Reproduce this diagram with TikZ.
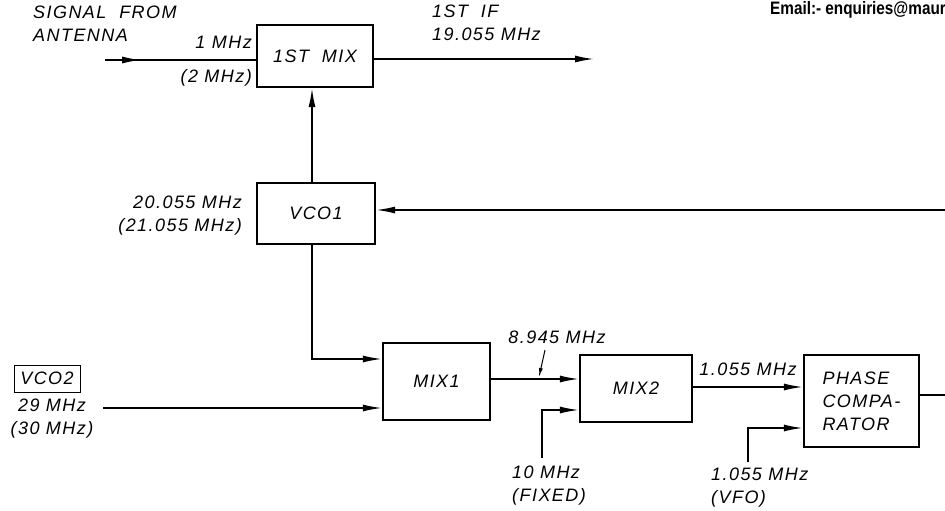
\documentclass[tikz,border=0pt]{standalone}
\usepackage{fontspec}
\setmainfont{Liberation Sans}[LetterSpace=8]
\newfontfamily\mailfont{Liberation Sans}
\usetikzlibrary{arrows.meta,calc}
\tikzset{
  blk/.style={draw, line width=2.2pt, inner sep=0pt, font=\fontsize{18}{23}\selectfont\itshape},
  lbl/.style={inner sep=0pt, font=\fontsize{18}{23}\selectfont\itshape},
  arr/.style={line width=1.6pt, -{Latex[length=19pt,width=7pt]}},
  ln/.style={line width=1.6pt},
  smallarr/.style={line width=1pt, -{Latex[length=9pt,width=4pt]}}
}
\begin{document}
\begin{tikzpicture}[x=1pt,y=-1pt]
\useasboundingbox (0,0) rectangle (945,511);
% blocks
\node[blk, minimum width=116pt, minimum height=62pt] (mix0) at (315,56) {1ST\ \ MIX};
\node[blk, minimum width=118pt, minimum height=61pt] (vco1) at (316,213.5) {VCO1};
\node[blk, minimum width=107pt, minimum height=77pt] (mix1) at (436.5,381.5) {MIX1};
\node[blk, minimum width=112pt, minimum height=67pt] (mix2) at (636,388.5) {MIX2};
\node[blk, minimum width=115pt, minimum height=92pt, align=left] (pc) at (861.5,401) {PHASE\\COMPA-\\RATOR};
\node[draw, line width=1pt, minimum width=66pt, minimum height=27pt, inner sep=0pt, font=\fontsize{18}{23}\selectfont\itshape] (vco2) at (47,378.5) {VCO2};
% labels
\node[lbl, anchor=north west, align=left] (sigl) at (33,6) {SIGNAL\ \ FROM\\ANTENNA};
\node[lbl, anchor=east] (f1) at (252,42) {1 MHz};
\node[lbl, anchor=east] (f2) at (252,78) {(2 MHz)};
\node[lbl, anchor=north west, align=left] (ifl) at (432,5) {1ST\ \ IF\\19.055 MHz};
\node[lbl, anchor=east, align=right] (vcof) at (242,216) {20.055 MHz\\(21.055 MHz)};
\node[lbl, align=center] (v2f) at (52,419) {29 MHz\\(30 MHz)};
\node[lbl] (m1f) at (557,337) {8.945 MHz};
\node[lbl, anchor=north west, align=left] (fixl) at (512,466) {10 MHz\\(FIXED)};
\node[lbl] (m2f) at (748,369) {1.055 MHz};
\node[lbl, anchor=north west, align=left] (vfol) at (711,468) {1.055 MHz\\(VFO)};
\node[inner sep=0pt, anchor=west, font=\mailfont\bfseries\fontsize{15}{16}\selectfont] (mail) at (770,10) {\scalebox{1.02}[1.2]{Email:- enquiries@maur}};
% connectors
\coordinate (sig) at (105,60);
\draw[ln] (sig) -- (sig -| mix0.west);
\draw[arr] (sig) -- ++(36,0);
\coordinate (ifend) at (594,59);
\draw[arr] (mix0.east |- ifend) -- (ifend);
\draw[arr] (vco1.north -| 312,0) -- (mix0.south -| 312,0);
\draw[arr] (vco1.south -| 312,0) |- (mix1.west |- 0,359);
\coordinate (v2s) at (103,408);
\draw[arr] (v2s) -- (mix1.west |- v2s);
\draw[arr] (mix1.east |- 0,379) -- (mix2.west |- 0,379);
\coordinate (tickst) at (545,350);
\coordinate (tickend) at (539,377);
\draw[smallarr] (tickst) -- (tickend);
\coordinate (fix) at (542,458);
\draw[arr] (fix) |- (mix2.west |- 0,410);
\draw[arr] (mix2.east |- 0,387) -- (pc.west |- 0,387);
\coordinate (vfo) at (748,462);
\draw[arr] (vfo) |- (pc.west |- 0,428);
\coordinate (fbout) at (945,395);
\draw[ln] (pc.east |- fbout) -- (fbout);
\coordinate (fbin) at (945,210);
\draw[arr] (fbin) -- (vco1.east |- fbin);
\end{tikzpicture}
\end{document}
